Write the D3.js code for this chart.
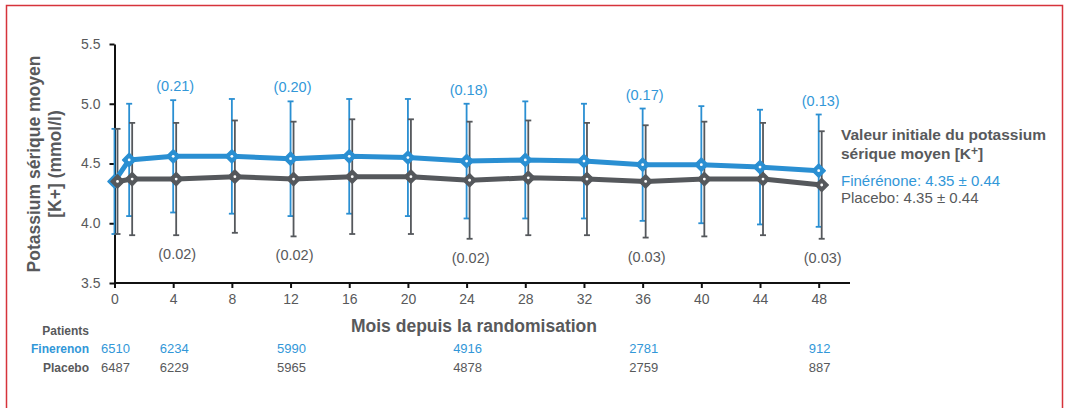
<!DOCTYPE html>
<html>
<head>
<meta charset="utf-8">
<script src="https://cdn.jsdelivr.net/npm/d3@7"></script>
<style>
	body { margin: 0; background: #fff; }
	svg { display: block; font-family: "Liberation Sans", Arial, sans-serif; }
</style>
</head>
<body>
<div id="chart"></div>
<script>
// Months at which K+ was measured
var months = [0, 1, 4, 8, 12, 16, 20, 24, 28, 32, 36, 40, 44, 48];

// Finerenone: mean, upper and lower end of error bar (mmol/l)
var fineMean = [4.35, 4.53, 4.56, 4.56, 4.54, 4.56, 4.55, 4.52, 4.53, 4.52, 4.49, 4.49, 4.47, 4.44];
var fineHigh = [4.79, 5.00, 5.03, 5.04, 5.02, 5.04, 5.04, 5.00, 5.02, 5.00, 4.96, 4.98, 4.95, 4.91];
var fineLow  = [3.91, 4.06, 4.09, 4.08, 4.06, 4.08, 4.06, 4.04, 4.04, 4.04, 4.02, 4.00, 3.99, 3.97];

// Placebo
var placMean = [4.35, 4.37, 4.37, 4.39, 4.37, 4.39, 4.39, 4.36, 4.38, 4.37, 4.35, 4.37, 4.37, 4.32];
var placHigh = [4.79, 4.84, 4.84, 4.86, 4.85, 4.87, 4.87, 4.85, 4.86, 4.84, 4.82, 4.85, 4.84, 4.77];
var placLow  = [3.91, 3.90, 3.90, 3.92, 3.89, 3.91, 3.91, 3.87, 3.90, 3.90, 3.88, 3.89, 3.90, 3.87];

// Change from baseline labels
var diffMonths = [4, 12, 24, 36, 48];
var fineDiff = ["(0.21)", "(0.20)", "(0.18)", "(0.17)", "(0.13)"];
var placDiff = ["(0.02)", "(0.02)", "(0.02)", "(0.03)", "(0.03)"];

// Patients at risk
var riskMonths = [0, 4, 12, 24, 36, 48];
var fineRisk = [6510, 6234, 5990, 4916, 2781, 912];
var placRisk = [6487, 6229, 5965, 4878, 2759, 887];

var xTicks = d3.range(0, 49, 4);
var yTicks = [3.5, 4.0, 4.5, 5.0, 5.5];

var BLUE = "#2a8fd2";
var BLUE_TXT = "#3297d8";
var GRAY = "#55585c";
var TXT = "#58595b";

var width = 1067, height = 408;

var svg = d3.select("#chart").append("svg")
	.attr("width", width)
	.attr("height", height);

// red frame (open at the bottom)
svg.append("path")
	.attr("d", d3.line()([[6.5, 420], [6.5, 5.5], [1062.5, 5.5], [1062.5, 420]]))
	.attr("fill", "none")
	.attr("stroke", "#d6333b")
	.attr("stroke-width", 1.5);

var x = d3.scaleLinear().domain([0, 48]).range([114.5, 818.7]);
var y = d3.scaleLinear().domain([3.5, 5.5]).range([283, 44]);
var xEnd = 850;

// axes
var xAxis = svg.append("g")
	.attr("transform", "translate(0," + y(3.5) + ")")
	.call(d3.axisBottom(x).tickValues(xTicks).tickSize(5).tickSizeOuter(0).tickPadding(6));
xAxis.select(".domain").attr("d", "M" + x(0) + ",0H" + xEnd);

var yAxis = svg.append("g")
	.attr("transform", "translate(" + x(0) + ",0)")
	.call(d3.axisLeft(y).tickValues(yTicks).tickFormat(d3.format(".1f")).tickSize(5).tickSizeOuter(0).tickPadding(9));

[xAxis, yAxis].forEach(function(g) {
	g.select(".domain").attr("stroke", "#111").attr("stroke-width", 2);
	g.selectAll(".tick line").attr("stroke", "#111").attr("stroke-width", 2);
	g.selectAll(".tick text").attr("fill", TXT).style("font-size", "14px").style("font-family", "Liberation Sans, Arial, sans-serif");
});

// axis titles
svg.append("text")
	.attr("x", 474).attr("y", 332)
	.attr("text-anchor", "middle")
	.attr("fill", TXT)
	.style("font-size", "17.5px").style("font-weight", "bold")
	.text("Mois depuis la randomisation");

var yTitle = svg.append("text")
	.attr("transform", "translate(40,164) rotate(-90)")
	.attr("text-anchor", "middle")
	.attr("fill", TXT)
	.style("font-size", "17.5px").style("font-weight", "bold");
yTitle.append("tspan").attr("x", 0).attr("y", 0).text("Potassium sérique moyen");
yTitle.append("tspan").attr("x", 0).attr("y", 21).text("[K+] (mmol/l)");

// series
var series = [
	{ mean: fineMean, high: fineHigh, low: fineLow, color: BLUE, dx: 0 },
	{ mean: placMean, high: placHigh, low: placLow, color: GRAY, dx: 3 }
];

// error bars
series.forEach(function(s) {
	var g = svg.append("g").attr("stroke", s.color).attr("stroke-width", 1.8);
	months.forEach(function(m, i) {
		var cx = x(m) + s.dx;
		g.append("line").attr("x1", cx).attr("x2", cx).attr("y1", y(s.high[i])).attr("y2", y(s.low[i]));
		g.append("line").attr("x1", cx - 3).attr("x2", cx + 3).attr("y1", y(s.high[i])).attr("y2", y(s.high[i]));
		g.append("line").attr("x1", cx - 3).attr("x2", cx + 3).attr("y1", y(s.low[i])).attr("y2", y(s.low[i]));
	});
});

// lines + markers
series.forEach(function(s) {
	var line = d3.line().x(function(d, i) { return x(months[i]) + s.dx; }).y(function(d) { return y(d); });
	svg.append("path")
		.attr("d", line(s.mean))
		.attr("fill", "none")
		.attr("stroke", s.color)
		.attr("stroke-width", 5)
		.attr("stroke-linejoin", "round");

	var diamond = d3.symbol().type(d3.symbolDiamond2).size(110);
	months.forEach(function(m, i) {
		var cx = x(m) + s.dx, cy = y(s.mean[i]);
		svg.append("path")
			.attr("d", diamond())
			.attr("transform", "translate(" + cx + "," + cy + ")")
			.attr("fill", s.color)
			.attr("stroke", s.color)
			.attr("stroke-width", 1.5)
			.attr("stroke-linejoin", "round");
		svg.append("circle").attr("cx", cx).attr("cy", cy).attr("r", 1.4).attr("fill", "#fff");
	});
});

// change-from-baseline labels
diffMonths.forEach(function(m, k) {
	var i = months.indexOf(m);
	svg.append("text")
		.attr("x", x(m) + 2).attr("y", y(fineHigh[i]) - 9)
		.attr("text-anchor", "middle")
		.attr("fill", BLUE_TXT)
		.style("font-size", "14.5px")
		.text(fineDiff[k]);
	svg.append("text")
		.attr("x", x(m) + 4).attr("y", y(placLow[i]) + 24)
		.attr("text-anchor", "middle")
		.attr("fill", TXT)
		.style("font-size", "14.5px")
		.text(placDiff[k]);
});

// baseline legend
var lg = svg.append("g").attr("transform", "translate(841,0)");
lg.append("text").attr("y", 140).attr("fill", TXT)
	.style("font-size", "15.5px").style("font-weight", "bold")
	.text("Valeur initiale du potassium");
var l2 = lg.append("text").attr("y", 159).attr("fill", TXT)
	.style("font-size", "15.5px").style("font-weight", "bold");
l2.append("tspan").text("sérique moyen [K");
l2.append("tspan").attr("dy", -4).style("font-size", "12px").text("+");
l2.append("tspan").attr("dy", 4).text("]");
lg.append("text").attr("y", 186).attr("fill", BLUE_TXT)
	.style("font-size", "15px")
	.text("Finérénone: 4.35 \u00b1 0.44");
lg.append("text").attr("y", 203).attr("fill", TXT)
	.style("font-size", "15px")
	.text("Placebo: 4.35 \u00b1 0.44");

// patients at risk
svg.append("text").attr("x", 89).attr("y", 335).attr("text-anchor", "end")
	.attr("fill", TXT).style("font-size", "12px").style("font-weight", "bold").text("Patients");
svg.append("text").attr("x", 89).attr("y", 353).attr("text-anchor", "end")
	.attr("fill", BLUE_TXT).style("font-size", "12px").style("font-weight", "bold").text("Finerenon");
svg.append("text").attr("x", 89).attr("y", 372).attr("text-anchor", "end")
	.attr("fill", TXT).style("font-size", "12px").style("font-weight", "bold").text("Placebo");

riskMonths.forEach(function(m, k) {
	svg.append("text").attr("x", x(m) + 1).attr("y", 353).attr("text-anchor", "middle")
		.attr("fill", BLUE_TXT).style("font-size", "13px").text(fineRisk[k]);
	svg.append("text").attr("x", x(m) + 1).attr("y", 372).attr("text-anchor", "middle")
		.attr("fill", TXT).style("font-size", "13px").text(placRisk[k]);
});
</script>
</body>
</html>
